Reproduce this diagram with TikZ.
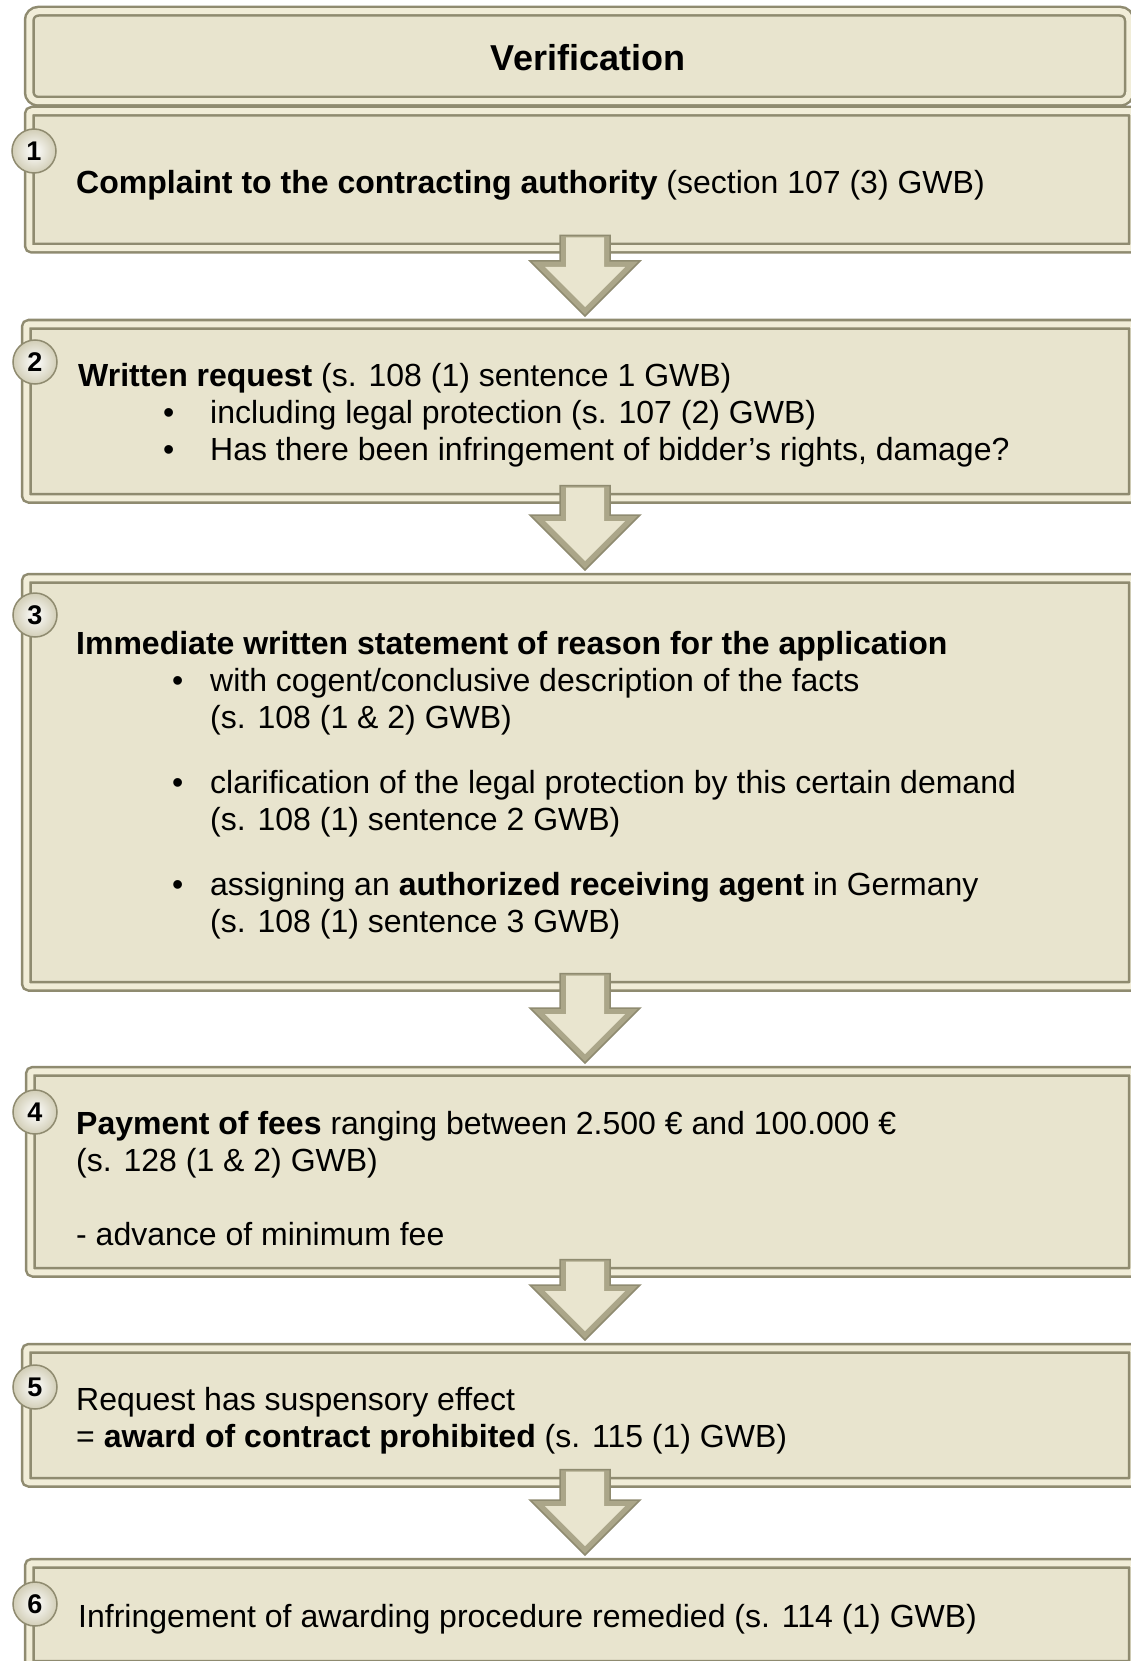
\documentclass[tikz,border=0pt]{standalone}
\usepackage{fontspec}
\setmainfont{Liberation Sans}
\usepackage{tikz}
\usetikzlibrary{calc}

\definecolor{boxfill}{HTML}{E8E4CE}
\definecolor{frmdark}{HTML}{8F8B70}
\definecolor{frmlight}{HTML}{F1EDD8}
\definecolor{arrdark}{HTML}{ABA689}
\definecolor{arrlight}{HTML}{E9E5CF}

\tikzset{
  stepbox/.style={draw=frmdark,line width=2.5pt,double=frmlight,double distance=6pt,
                  fill=boxfill,rounded corners=3pt,anchor=north west,inner sep=0pt},
  titlebox/.style={stepbox,rounded corners=9pt},
  numc/.style={circle,draw=frmdark,line width=1.5pt,inner color=white,
               outer color=boxfill!75!frmdark,minimum size=44pt,inner sep=0pt,
               font=\bfseries\fontsize{27}{27}\selectfont},
  % multi-line texts sit on the baseline of their last line
  txt/.style={anchor=base west,align=left,inner sep=0pt,
              font=\fontsize{32}{37}\selectfont},
  arrout/.style={fill=arrdark,draw=frmdark,line width=1.5pt},
  arrin/.style={fill=arrlight},
}

% bullet: offset to the dot, then room up to the text
\newcommand{\itm}[2]{\hspace*{#1}\makebox[#2][l]{\textbullet}}
% block arrow from one box down to the next
\newcommand{\stepconn}[2]{%
  \filldraw[arrout] let \p1=(#1.south -| ax), \p2=(#2.north -| ax) in
    (\x1-25pt,\y1+14pt) -- (\x1-25pt,\y2+62pt) -- (\x1-55pt,\y2+62pt)
    -- (\x1,\y2+7pt) -- (\x1+55pt,\y2+62pt) -- (\x1+25pt,\y2+62pt)
    -- (\x1+25pt,\y1+14pt) -- cycle;
  \fill[arrin] let \p1=(#1.south -| ax), \p2=(#2.north -| ax) in
    (\x1-19pt,\y1+12pt) -- (\x1-19pt,\y2+56pt) -- (\x1-40pt,\y2+56pt)
    -- (\x1,\y2+16pt) -- (\x1+40pt,\y2+56pt) -- (\x1+19pt,\y2+56pt)
    -- (\x1+19pt,\y1+12pt) -- cycle;
}

\begin{document}
\begin{tikzpicture}[x=1pt,y=1pt]
\useasboundingbox (0,0) rectangle (1131,-1661);
\clip (0,0) rectangle (1131,-1661);
\coordinate (ax) at (585,0);

% boxes
\node[titlebox,minimum width=1100,minimum height=90]  (b0) at (28,-10) {};
\node[stepbox,minimum width=1104,minimum height=137]  (b1) at (28,-110) {};
\node[stepbox,minimum width=1107,minimum height=174]  (b2) at (25,-323) {};
\node[stepbox,minimum width=1107,minimum height=408]  (b3) at (25,-577) {};
\node[stepbox,minimum width=1103,minimum height=201]  (b4) at (29,-1070) {};
\node[stepbox,minimum width=1107,minimum height=134]  (b5) at (25,-1347) {};
\node[stepbox,minimum width=1104,minimum height=102]  (b6) at (28,-1562) {};

\node[font=\bfseries\fontsize{36}{36}\selectfont] (ttl) at (588,-58) {Verification};

\node[txt] (t1) at (76,-194)
  {\textbf{Complaint to the contracting authority} (section 107 (3) GWB)};
\node[txt] (t2) at (78,-460)
  {\textbf{Written request} (s. 108 (1) sentence 1 GWB)\\
   \itm{85pt}{47pt}including legal protection (s. 107 (2) GWB)\\
   \itm{85pt}{47pt}Has there been infringement of bidder’s rights, damage?};
\node[txt] (t3) at (76,-932)
  {\textbf{Immediate written statement of reason for the application}\\
   \itm{96pt}{38pt}with cogent/conclusive description of the facts\\
   \hspace*{134pt}(s. 108 (1 \& 2) GWB)\\[28pt]
   \itm{96pt}{38pt}clarification of the legal protection by this certain demand\\
   \hspace*{134pt}(s. 108 (1) sentence 2 GWB)\\[28pt]
   \itm{96pt}{38pt}assigning an \textbf{authorized receiving agent} in Germany\\
   \hspace*{134pt}(s. 108 (1) sentence 3 GWB)};
\node[txt] (t4) at (76,-1245)
  {\textbf{Payment of fees} ranging between 2.500 € and 100.000 €\\
   (s. 128 (1 \& 2) GWB)\\[37pt]
   - advance of minimum fee};
\node[txt] (t5) at (76,-1447)
  {Request has suspensory effect\\
   = \textbf{award of contract prohibited} (s. 115 (1) GWB)};
\node[txt] (t6) at (78,-1627)
  {Infringement of awarding procedure remedied (s. 114 (1) GWB)};

% step numbers
\node[numc] (n1) at (34,-151)  {1};
\node[numc] (n2) at (35,-362)  {2};
\node[numc] (n3) at (35,-615)  {3};
\node[numc] (n4) at (35,-1112) {4};
\node[numc] (n5) at (35,-1387) {5};
\node[numc] (n6) at (35,-1604) {6};

% arrows
\stepconn{b1}{b2}
\stepconn{b2}{b3}
\stepconn{b3}{b4}
\stepconn{b4}{b5}
\stepconn{b5}{b6}
\end{tikzpicture}
\end{document}
